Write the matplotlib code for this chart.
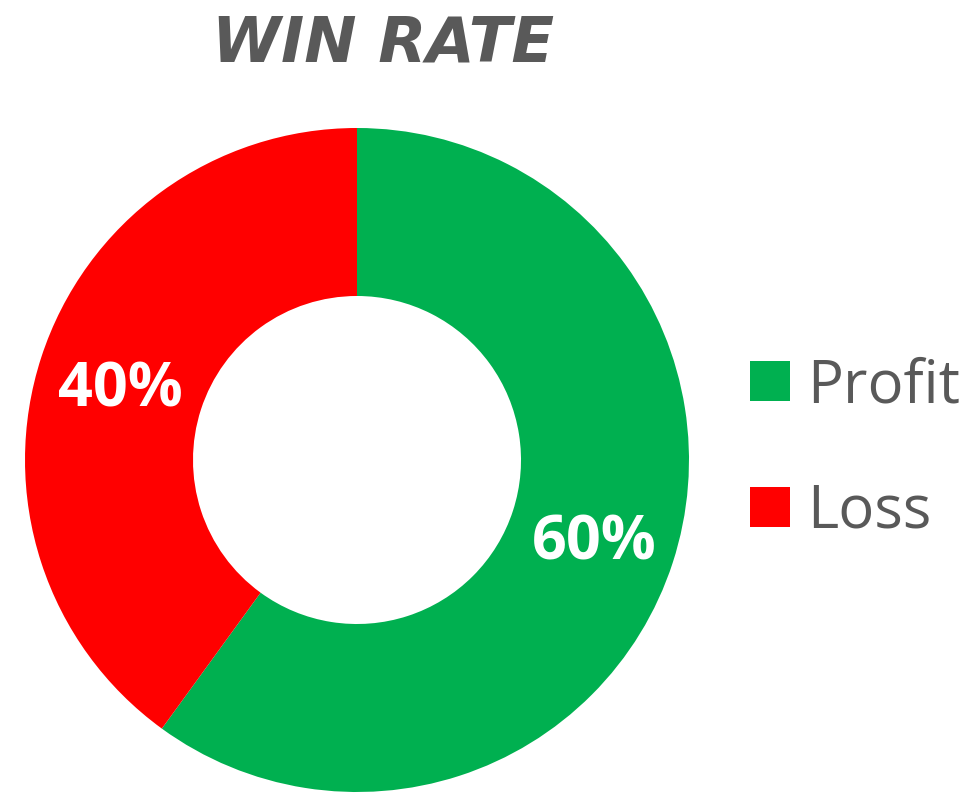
"""Donut chart of win rate (profit vs loss)."""

import matplotlib.pyplot as plt

# Data
labels = ["Profit", "Loss"]
values = [60, 40]
colors = ["#00B050", "#FF0000"]

fig = plt.figure(figsize=(9.66, 7.96), dpi=100)

# Axes placed so the ring sits left of the legend
ax = fig.add_axes([25 / 966, 4 / 796, 664 / 966, 664 / 796])

wedges, texts, autotexts = ax.pie(
    values,
    colors=colors,
    startangle=90,
    counterclock=False,
    radius=1.0,
    autopct="%d%%",
    pctdistance=0.75,
    wedgeprops=dict(width=0.506, edgecolor="none"),
    textprops=dict(color="white", fontsize=44, fontweight="bold",
                   family="Open Sans", verticalalignment="center_baseline"),
)
ax.set_xlim(-1, 1)
ax.set_ylim(-1, 1)
ax.set_aspect("equal")

fig.text(0.397, 0.944, "WIN RATE", ha="center", va="center",
         fontsize=45, fontweight="bold", fontstyle="italic",
         color="#595959", family="DejaVu Sans")

fig.legend(wedges, labels, loc="center left", bbox_to_anchor=(0.776, 0.436),
           frameon=False, labelcolor="#595959",
           handlelength=0.67, handleheight=0.67, handletextpad=0.3,
           labelspacing=1.1, borderpad=0, borderaxespad=0,
           prop=dict(family="Open Sans", size=43))

fig.savefig("out.png", dpi=100)
